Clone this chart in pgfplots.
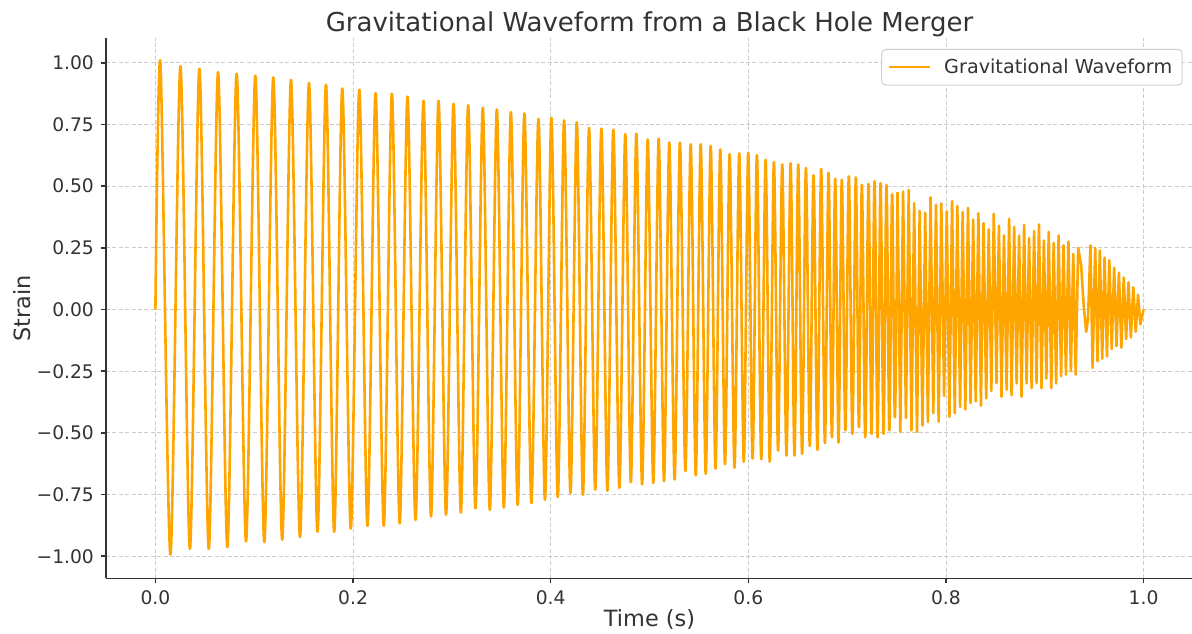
\documentclass[border=0pt]{standalone}
\usepackage{fontspec}
\setmainfont{DejaVu Sans}
\usepackage{pgfplots}
\pgfplotsset{compat=1.18}
\definecolor{wave}{HTML}{FFA500}
\definecolor{txt}{HTML}{333333}
\definecolor{gridc}{HTML}{CCCCCC}
\definecolor{legb}{HTML}{D0D0D0}
\begin{document}
\begin{tikzpicture}
\begin{axis}[
  scale only axis,
  width=543.5pt, height=270pt,
  xmin=-0.05, xmax=1.05, ymin=-1.0895, ymax=1.0995,
  axis lines*=left,
  axis line style={-, draw=txt, line width=0.75pt},
  tick align=outside,
  major tick length=2.5pt,
  tick style={draw=txt, line width=0.75pt},
  xtick={0,0.2,0.4,0.6,0.8,1.0},
  xticklabels={0.0,0.2,0.4,0.6,0.8,1.0},
  ytick={-1,-0.75,-0.5,-0.25,0,0.25,0.5,0.75,1},
  yticklabels={−1.00,−0.75,−0.50,−0.25,0.00,0.25,0.50,0.75,1.00},
  xticklabel style={anchor=base, inner sep=0pt, yshift=-10.85pt, font=\fontsize{9.35}{11}\selectfont, text=txt},
  yticklabel style={anchor=east, inner sep=0pt, xshift=-3.35pt, font=\fontsize{9.35}{11}\selectfont, text=txt},
  grid=major,
  major grid style={draw=gridc, line width=0.4pt, dash pattern=on 2pt off 1.2pt},
  title={Gravitational Waveform from a Black Hole Merger},
  title style={at={(axis description cs:0.5,1)}, anchor=base, yshift=-2.7pt, inner sep=0pt, font=\fontsize{13}{15}\selectfont, text=txt},
  xlabel={Time (s)},
  xlabel style={at={(axis description cs:0.5,0)}, anchor=base, yshift=-23.9pt, inner sep=0pt, font=\fontsize{11.2}{13}\selectfont, text=txt},
  ylabel={Strain},
  ylabel style={at={(axis description cs:-0.0773,0.5)}, anchor=center, inner sep=0pt, font=\fontsize{11.2}{13}\selectfont, text=txt},
  legend style={at={(axis description cs:1,1)}, anchor=north east, xshift=-5.15pt, yshift=-5.35pt, draw=legb, line width=0.5pt, rounded corners=2pt, fill=white, font=\fontsize{9.6}{11}\selectfont, text=txt, inner xsep=3pt, inner ysep=2.5pt},
  legend image code/.code={\draw[#1, line width=1.2pt] (0pt,0pt) -- (20.5pt,0pt); \path (25pt,0pt);},
]
\addplot[wave, line width=1.3pt, line join=round, smooth] coordinates {
(0,0) (0.0051,0.999) (0.0152,-0.993) (0.0253,0.986) (0.0349,-0.970) (0.0445,0.976) (0.0540,-0.970)
(0.0634,0.962) (0.0728,-0.963) (0.0822,0.956) (0.0917,-0.940) (0.1011,0.948) (0.1102,-0.943)
(0.1193,0.941) (0.1283,-0.933) (0.1372,0.931) (0.1463,-0.922) (0.1554,0.918) (0.1640,-0.901)
(0.1726,0.911) (0.1809,-0.901) (0.1891,0.896) (0.1977,-0.888) (0.2063,0.891)
(0.2146,-0.877) (0.2228,0.877) (0.2311,-0.877) (0.2393,0.875) (0.2472,-0.867) (0.2551,0.863)
(0.2632,-0.853) (0.2713,0.846) (0.2789,-0.839) (0.2865,0.846) (0.2941,-0.832) (0.3017,0.834)
(0.3091,-0.823) (0.3165,0.828) (0.3239,-0.806) (0.3313,0.818) (0.3384,-0.812) (0.3455,0.811)
(0.3526,-0.803) (0.3597,0.800) (0.3666,-0.792) (0.3734,0.795) (0.3805,-0.785) (0.3876,0.773)
(0.3942,-0.771) (0.4007,0.777) (0.4072,-0.760) (0.4136,0.767)
(0.4200,-0.744) (0.4264,0.759) (0.4326,-0.751) (0.4388,0.736) (0.4451,-0.730) (0.4513,0.733)
(0.4574,-0.734) (0.4634,0.729) (0.4695,-0.723) (0.4755,0.711) (0.4811,-0.700) (0.4867,0.713)
(0.4925,-0.709) (0.4982,0.689) (0.5038,-0.703) (0.5093,0.692) (0.5147,-0.696) (0.5200,0.677)
(0.5254,-0.689) (0.5308,0.677) (0.5363,-0.655) (0.5417,0.670) (0.5468,-0.672) (0.5518,0.670)
(0.5569,-0.666) (0.5619,0.663) (0.5668,-0.645) (0.5716,0.649) (0.5764,-0.627) (0.5811,0.630)
(0.5860,-0.641) (0.5908,0.633) (0.5954,-0.617) (0.5999,0.636) (0.6043,-0.604) (0.6087,0.626)
(0.6131,-0.607) (0.6175,0.607) (0.6217,-0.617) (0.6259,0.598)
(0.6301,-0.572) (0.6343,0.588) (0.6386,-0.592) (0.6428,0.593) (0.6467,-0.592) (0.6505,0.588)
(0.6544,-0.585) (0.6583,0.574) (0.6622,-0.553) (0.6660,0.544) (0.6699,-0.569) (0.6737,0.570)
(0.6775,-0.542) (0.6812,0.554) (0.6846,-0.518) (0.6879,0.530) (0.6913,-0.539) (0.6946,0.526)
(0.6982,-0.490) (0.7017,0.540) (0.7053,-0.504) (0.7088,0.536) (0.7119,-0.477) (0.7149,0.505)
(0.7183,-0.518) (0.7216,0.509) (0.7247,-0.504) (0.7277,0.520) (0.7308,-0.518) (0.7338,0.512)
(0.7368,-0.504) (0.7398,0.505) (0.7427,-0.490) (0.7455,0.467) (0.7483,-0.437) (0.7510,0.475)
};
\addlegendentry{Gravitational Waveform}
\addplot[wave, line width=1.3pt, line join=round, forget plot] coordinates {
(0.7510,0.475) (0.7538,-0.496) (0.7566,0.478) (0.7595,-0.440) (0.7623,0.485) (0.7651,-0.490)
(0.7678,0.431) (0.7707,-0.497) (0.7734,0.400) (0.7762,-0.470) (0.7790,0.392) (0.7817,-0.456)
(0.7844,0.455) (0.7872,-0.420) (0.7899,0.424) (0.7926,-0.455) (0.7953,0.430) (0.7981,-0.350)
(0.8008,0.398) (0.8035,-0.435) (0.8062,0.440) (0.8089,-0.420) (0.8115,0.420) (0.8143,-0.395)
(0.8169,0.395) (0.8196,-0.405) (0.8223,0.412) (0.8249,-0.380) (0.8275,0.365) (0.8301,-0.372)
(0.8328,0.390) (0.8354,-0.390) (0.8380,0.350) (0.8407,-0.360) (0.8433,0.325) (0.8459,-0.330)
(0.8484,0.388) (0.8511,-0.298) (0.8536,0.340) (0.8562,-0.354) (0.8587,0.300) (0.8614,-0.325)
(0.8639,0.368) (0.8664,-0.347) (0.8690,0.335) (0.8715,-0.300) (0.8740,0.300) (0.8765,-0.354)
(0.8791,0.343) (0.8816,-0.300) (0.8841,0.290) (0.8867,-0.319) (0.8892,0.318) (0.8917,-0.298)
(0.8941,0.345) (0.8967,-0.319) (0.8991,0.280) (0.9016,-0.280) (0.9040,0.315) (0.9066,-0.319)
(0.9090,0.270) (0.9115,-0.300) (0.9140,0.300) (0.9165,-0.270) (0.9189,0.260) (0.9214,-0.264)
(0.9239,0.275) (0.9264,-0.250) (0.9288,0.225) (0.9313,-0.264) (0.9338,0.250)
(0.9368,0.180) (0.9393,0.020) (0.9419,-0.090) (0.9437,-0.040) (0.9449,0.100)
(0.9462,0.260) (0.9484,-0.237) (0.9510,0.250) (0.9534,-0.210) (0.9557,0.240) (0.9581,-0.200)
(0.9605,0.210) (0.9629,-0.190) (0.9653,0.200) (0.9677,-0.160) (0.9702,0.170) (0.9726,-0.148)
(0.9750,0.150) (0.9775,-0.155) (0.9799,0.130) (0.9823,-0.120) (0.9847,0.110) (0.9871,-0.113)
(0.9896,0.090) (0.9920,-0.090) (0.9944,0.060) (0.9967,-0.060) (1.0000,0.000)
};
\end{axis}
\pgfresetboundingbox
\path ([shift={(-53pt,-27.85pt)}]current axis.south west) rectangle ([shift={(-0.5pt,19.15pt)}]current axis.north east);
\end{tikzpicture}
\end{document}
